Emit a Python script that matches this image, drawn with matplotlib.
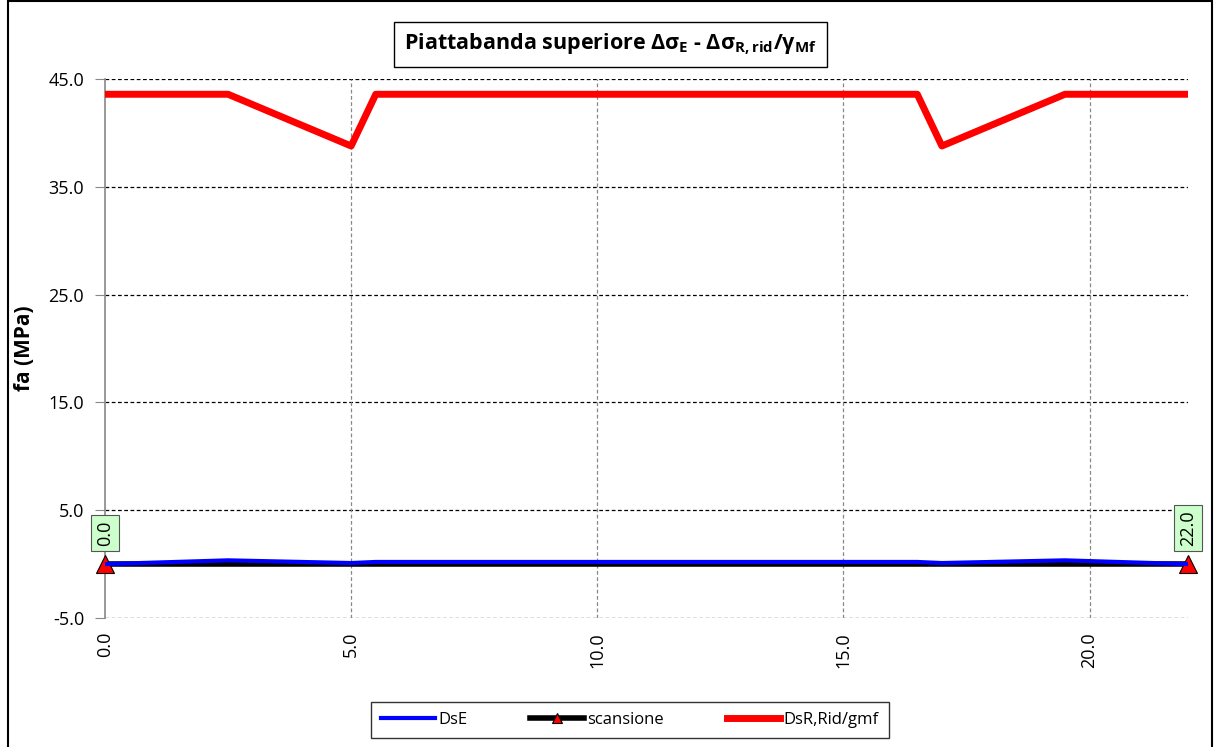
import matplotlib
matplotlib.use('Agg')
import matplotlib.pyplot as plt
from matplotlib.patches import Rectangle

plt.rcParams['font.family'] = ['Open Sans', 'DejaVu Sans']
plt.rcParams['mathtext.fontset'] = 'custom'
plt.rcParams['mathtext.rm'] = 'Open Sans'
plt.rcParams['mathtext.bf'] = 'Open Sans:bold'
plt.rcParams['mathtext.default'] = 'bf'

# data
x_dse = [0.0, 2.5, 5.0, 5.5, 16.5, 17.0, 19.5, 22.0]
y_dse = [0.0, 0.35, 0.1, 0.2, 0.2, 0.1, 0.35, 0.0]

x_scan = [0.0, 22.0]
y_scan = [0.0, 0.0]
scan_labels = ['0.0', '22.0']

x_dsr = [0.0, 2.5, 5.0, 5.5, 16.5, 17.0, 19.5, 22.0]
y_dsr = [43.6, 43.6, 38.8, 43.6, 43.6, 38.8, 43.6, 43.6]

y_ticks = [-5, 5, 15, 25, 35, 45]
x_ticks = [0, 5, 10, 15, 20]

fig = plt.figure(figsize=(12.14, 7.47), dpi=100)
ax = fig.add_axes([0.0865, 0.1727, 0.8921, 0.7213])

ax.plot(x_dse, y_dse, color='#0000ff', lw=3, label='DsE', zorder=4)
ax.plot(x_scan, y_scan, color='black', lw=4, marker='^', markersize=13,
        markerfacecolor='red', markeredgecolor='black', markeredgewidth=0.8,
        label='scansione', zorder=3, clip_on=False)
ax.plot(x_dsr, y_dsr, color='#ff0000', lw=5, label='DsR,Rid/gmf', zorder=5)

for xv, yv, lab in zip(x_scan, y_scan, scan_labels):
    ax.annotate(lab, (xv, yv), xytext=(0, 13), textcoords='offset points',
                rotation=90, ha='center', va='bottom', fontsize=13,
                bbox=dict(boxstyle='square,pad=0.3', fc='#ccffcc', ec='#555555', lw=0.8),
                annotation_clip=False)

ax.set_xlim(0, 22)
ax.set_ylim(-5, 45)
ax.set_yticks(y_ticks)
ax.set_yticklabels(['%.1f' % v for v in y_ticks], fontsize=13)
ax.set_xticks(x_ticks)
ax.set_xticklabels(['%.1f' % v for v in x_ticks], fontsize=13, rotation=90)
ax.tick_params(axis='y', length=7, color='#888888', pad=8)
ax.tick_params(axis='x', length=0, pad=10)

for y in y_ticks:
    ax.axhline(y, color='black', lw=0.9, ls=(0, (3, 2)), zorder=1)
for x in x_ticks[1:]:
    ax.axvline(x, color='#888888', lw=0.9, ls=(0, (3, 2)), zorder=1)

for s in ['top', 'right', 'bottom']:
    ax.spines[s].set_visible(False)
ax.spines['left'].set_color('#888888')
ax.spines['left'].set_linewidth(1.2)

ax.set_ylabel('fa (MPa)', fontsize=15, fontweight='bold', labelpad=10)

fig.text(0.503, 0.941,
         'Piattabanda superiore Δσ$_{E}$ - Δσ$_{R,rid}$/γ$_{Mf}$',
         ha='center', va='center', fontsize=15.5, fontweight='bold',
         bbox=dict(boxstyle='square,pad=0.45', fc='white', ec='black', lw=1))

leg = fig.legend(loc='center', bbox_to_anchor=(0.519, 0.036), ncol=3,
                 frameon=True, fancybox=False, edgecolor='black', fontsize=12,
                 handlelength=3.2, handletextpad=0.2, columnspacing=3.8,
                 borderpad=0.6)
leg.get_frame().set_linewidth(1)
for h in leg.legend_handles:
    h.set_markersize(7)

fig.patches.append(Rectangle((0.007, -0.01), 0.991, 1.008, transform=fig.transFigure,
                             fill=False, ec='black', lw=1.5))

fig.savefig('out.png', dpi=100)
